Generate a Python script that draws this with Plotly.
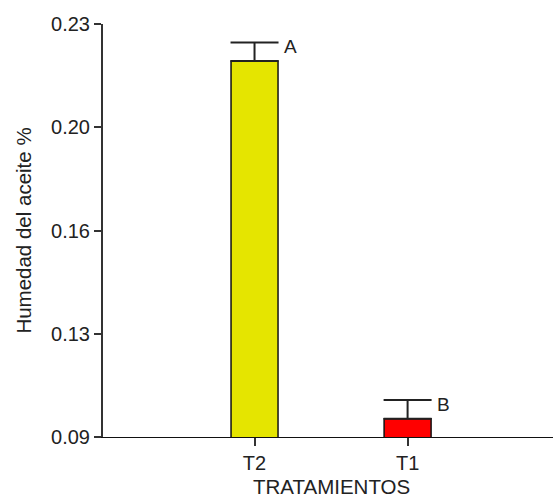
import plotly.graph_objects as go

categories = ["T2", "T1"]
humedad = [0.2175, 0.0962]
error_sup = [0.0062, 0.0063]
letras = ["A", "B"]
colores = ["#E5E500", "#FF0000"]
y_tickvals = [0.09, 0.125, 0.16, 0.195, 0.23]
y_ticktext = ["0.09", "0.13", "0.16", "0.20", "0.23"]
x_title = "TRATAMIENTOS"
y_title = "Humedad del aceite %"

FONT = "Liberation Sans, Arial, sans-serif"
x_idx = list(range(len(categories)))

fig = go.Figure()
fig.add_trace(go.Bar(
    x=x_idx, y=humedad,
    width=0.307,
    marker=dict(color=colores, line=dict(color="#111111", width=1.5)),
    error_y=dict(type="data", symmetric=False, array=error_sup,
                 arrayminus=[0] * len(error_sup),
                 width=24, thickness=2, color="#222222"),
    base=0,
))

for i, (v, e, l) in enumerate(zip(humedad, error_sup, letras)):
    fig.add_annotation(x=i, y=v + e, text=l, showarrow=False,
                       xanchor="left", yanchor="middle", xshift=27, yshift=-4,
                       font=dict(family=FONT, size=19, color="#222222"))

fig.add_annotation(x=0.507, y=0, xref="paper", yref="paper", text=x_title,
                   showarrow=False, xanchor="center", yanchor="top",
                   yshift=-36, font=dict(family=FONT, size=20.5, color="#222222"))

fig.update_layout(
    width=553, height=499,
    margin=dict(l=103, r=0, t=24, b=62),
    paper_bgcolor="white", plot_bgcolor="white",
    showlegend=False,
    font=dict(family=FONT, color="#222222"),
    xaxis=dict(range=[-0.99, 1.95], tickmode="array", tickvals=x_idx,
               ticktext=categories, showgrid=False, zeroline=False,
               showline=True, linecolor="#111111", linewidth=1.2,
               ticks="outside", ticklen=8, tickcolor="#333333", tickwidth=1.5,
               tickfont=dict(size=20), automargin=False),
    yaxis=dict(range=[0.09, 0.23], tickmode="array", tickvals=y_tickvals,
               ticktext=y_ticktext, showgrid=False, zeroline=False,
               showline=True, linecolor="#333333", linewidth=2,
               ticks="outside", ticklen=7, tickcolor="#333333", tickwidth=1.5,
               tickfont=dict(size=20), automargin=False,
               title=dict(text=y_title, font=dict(size=20.5), standoff=14)),
)

fig.write_html("out.html")
